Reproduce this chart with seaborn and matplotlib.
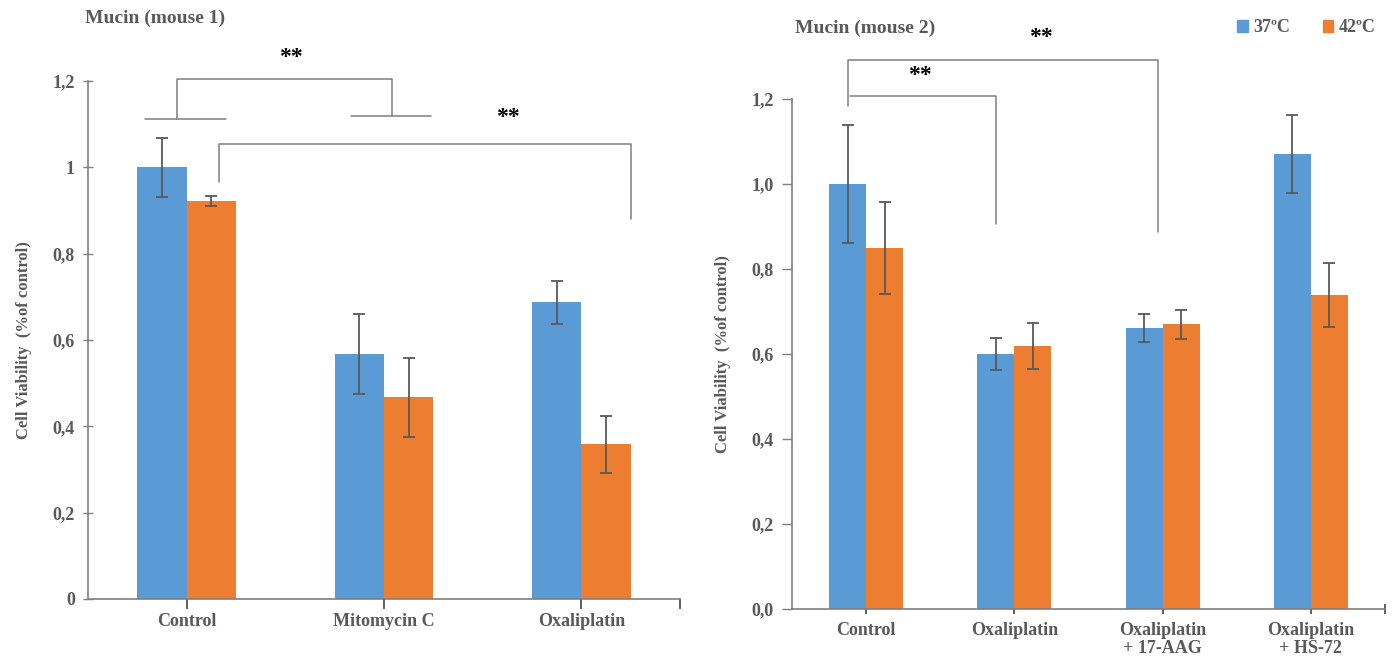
import numpy as np
import pandas as pd
import matplotlib
matplotlib.use("Agg")
import matplotlib.pyplot as plt
import seaborn as sns

# ─────────────────────────────────────────────
# Data
# ─────────────────────────────────────────────
temps = ["37ºC", "42ºC"]

cats_m1 = ["Control", "Mitomycin C", "Oxaliplatin"]
mean_m1_37 = [1.00, 0.568, 0.687]
mean_m1_42 = [0.922, 0.467, 0.358]
err_m1_37 = [0.068, 0.093, 0.050]
err_m1_42 = [0.011, 0.091, 0.066]

cats_m2 = ["Control", "Oxaliplatin", "Oxaliplatin\n+ 17-AAG", "Oxaliplatin\n+ HS-72"]
mean_m2_37 = [1.00, 0.600, 0.660, 1.070]
mean_m2_42 = [0.849, 0.619, 0.670, 0.739]
err_m2_37 = [0.139, 0.037, 0.033, 0.092]
err_m2_42 = [0.108, 0.054, 0.034, 0.076]

yticks_m1 = ["0", "0,2", "0,4", "0,6", "0,8", "1", "1,2"]
yticks_m2 = ["0,0", "0,2", "0,4", "0,6", "0,8", "1,0", "1,2"]

COLORS = ["#5B9BD5", "#ED7D31"]
GREY = "#595959"
LINE = "#7f7f7f"


def long_df(cats, m37, m42):
    return pd.DataFrame({
        "treatment": cats * 2,
        "temp": [temps[0]] * len(cats) + [temps[1]] * len(cats),
        "value": list(m37) + list(m42),
    })


def draw_panel(ax, cats, m37, m42, e37, e42, ylabels, ydir, xdir, xpad):
    df = long_df(cats, m37, m42)
    sns.barplot(data=df, x="treatment", y="value", hue="temp",
                hue_order=temps, palette=COLORS, errorbar=None,
                width=0.5, saturation=1, linewidth=0, edgecolor="none",
                ax=ax, legend=False)

    # error bars at the centre of each bar
    for cont, errs in zip(ax.containers, [e37, e42]):
        xs = [p.get_x() + p.get_width() / 2 for p in cont.patches]
        ys = [p.get_height() for p in cont.patches]
        ax.errorbar(xs, ys, yerr=errs, fmt="none", ecolor=GREY,
                    elinewidth=1.3, capsize=4, capthick=1.3)

    n = len(cats)
    ax.set_xlim(-0.5, n - 0.5)
    ax.set_ylim(0, 1.2)
    ax.set_yticks(np.arange(0, 1.21, 0.2))
    ax.set_yticklabels(ylabels)
    ax.set_xticks(list(range(n)) + [n - 0.5])
    ax.set_xticklabels(cats + [""])
    ax.set_xlabel("")
    ax.set_ylabel("Cell Viability  (%of control)", fontsize=12,
                  fontweight="bold", color=GREY, labelpad=15)

    for side in ["top", "right"]:
        ax.spines[side].set_visible(False)
    for side in ["left", "bottom"]:
        ax.spines[side].set_color(LINE)
        ax.spines[side].set_linewidth(1.2)

    ax.tick_params(axis="y", left=True, direction=ydir, length=7, width=1,
                   color=LINE, labelsize=13, labelcolor=GREY, pad=6)
    ax.tick_params(axis="x", bottom=True, direction=xdir, length=7, width=1.2,
                   color="#444444", labelsize=13, labelcolor=GREY, pad=xpad)
    for lab in ax.get_xticklabels() + ax.get_yticklabels():
        lab.set_fontweight("bold")
        lab.set_linespacing(1.05)
    ax.grid(False)


def bracket(ax, xs, ys):
    ax.plot(xs, ys, color=LINE, lw=1.1, clip_on=False)


def stars(ax, x, y):
    ax.text(x, y, "**", ha="center", va="center", fontsize=17,
            fontweight="bold", color="black", clip_on=False)


sns.set_theme(style="white")
plt.rcParams["font.family"] = ["Liberation Serif", "DejaVu Serif"]

fig = plt.figure(figsize=(13.95, 6.59), dpi=100)
ax1 = fig.add_axes([0.0631, 0.0911, 0.4244, 0.786])
ax2 = fig.add_axes([0.5677, 0.0759, 0.4251, 0.774])

draw_panel(ax1, cats_m1, mean_m1_37, mean_m1_42, err_m1_37, err_m1_42,
           yticks_m1, "inout", "out", 3)
draw_panel(ax2, cats_m2, mean_m2_37, mean_m2_42, err_m2_37, err_m2_42,
           yticks_m2, "out", "inout", 6)

# significance brackets, mouse 1
bracket(ax1, [-0.05, -0.05, 1.04, 1.04], [1.112, 1.205, 1.205, 1.119])
bracket(ax1, [-0.21, 0.20], [1.112, 1.112])
bracket(ax1, [0.835, 1.24], [1.119, 1.119])
stars(ax1, 0.53, 1.255)
bracket(ax1, [0.165, 0.165, 2.25, 2.25], [0.966, 1.054, 1.054, 0.880])
stars(ax1, 1.63, 1.115)

# significance brackets, mouse 2
bracket(ax2, [-0.12, -0.12, 1.97, 1.97], [1.184, 1.292, 1.292, 0.887])
stars(ax2, 1.18, 1.345)
bracket(ax2, [-0.11, 0.875, 0.875], [1.207, 1.207, 0.906])
stars(ax2, 0.36, 1.255)

# titles
fig.text(85 / 1395, 1 - 18 / 659, "Mucin (mouse 1)", ha="left", va="center",
         fontsize=14, fontweight="bold", color=GREY)
fig.text(795 / 1395, 1 - 28 / 659, "Mucin (mouse 2)", ha="left", va="center",
         fontsize=14, fontweight="bold", color=GREY)

# legend
handles = [plt.Rectangle((0, 0), 1, 1, color=c) for c in COLORS]
fig.legend(handles, temps, loc="center right",
           bbox_to_anchor=(1392 / 1395, 1 - 28 / 659), ncol=2, frameon=False,
           handlelength=0.6, handleheight=0.6, handletextpad=0.3,
           columnspacing=1.8,
           prop={"family": "Liberation Serif", "weight": "bold", "size": 13})
for t in fig.legends[0].get_texts():
    t.set_color(GREY)

fig.savefig("out.png", dpi=100)
